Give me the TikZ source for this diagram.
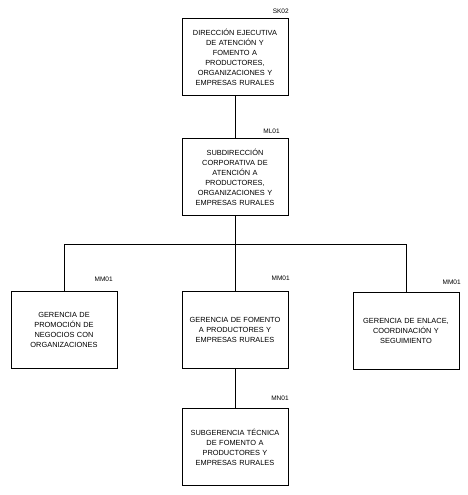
\documentclass[tikz,border=0pt]{standalone}
\usepackage{fontspec}
\setmainfont{Liberation Sans}
\usepackage{tikz}

\begin{document}
\begin{tikzpicture}[x=1pt, y=-1pt, line width=0.7pt,
    unit/.style={rectangle, draw, minimum width=106pt, minimum height=77pt,
        align=center, text width=100pt, font=\fontsize{7.4}{10}\selectfont, inner sep=0pt},
    code/.style={font=\fontsize{6.5}{8}\selectfont, inner sep=0pt}]
    \useasboundingbox (0,0) rectangle (468,495);

    \node[unit] (sk) at (235,57) {DIRECCIÓN EJECUTIVA\\DE ATENCIÓN Y\\FOMENTO A\\PRODUCTORES,\\ORGANIZACIONES Y\\EMPRESAS RURALES};
    \node[unit] (ml) at (235,177) {SUBDIRECCIÓN\\CORPORATIVA DE\\ATENCIÓN A\\PRODUCTORES,\\ORGANIZACIONES Y\\EMPRESAS RURALES};

    \node[unit] (mm1) at (64,330) {GERENCIA DE\\PROMOCIÓN DE\\NEGOCIOS CON\\ORGANIZACIONES};
    \node[unit] (mm2) at (235,330) {GERENCIA DE FOMENTO\\A PRODUCTORES Y\\EMPRESAS RURALES};
    \node[unit] (mm3) at (406,331) {GERENCIA DE ENLACE,\\COORDINACIÓN Y\\SEGUIMIENTO};

    \node[unit] (mn) at (235,447) {SUBGERENCIA TÉCNICA\\DE FOMENTO A\\PRODUCTORES Y\\EMPRESAS RURALES};

    \node[code, anchor=east] (skc) at (289,11) {SK02};
    \node[code, anchor=east] (mlc) at (280,131) {ML01};
    \node[code, anchor=east] (mm1c) at (113,279) {MM01};
    \node[code, anchor=east] (mm2c) at (290,278) {MM01};
    \node[code, anchor=east] (mm3c) at (461,282) {MM01};
    \node[code, anchor=east] (mnc) at (289,398) {MN01};

    \coordinate (bus) at (235,244);
    \draw (sk) -- (ml);
    \draw (ml) -- (bus);
    \draw (mm1.north |- bus) -- (mm3.north |- bus);
    \foreach \j in {mm1,mm2,mm3}
        \draw (\j.north |- bus) -- (\j);
    \draw (mm2) -- (mn);
\end{tikzpicture}
\end{document}
